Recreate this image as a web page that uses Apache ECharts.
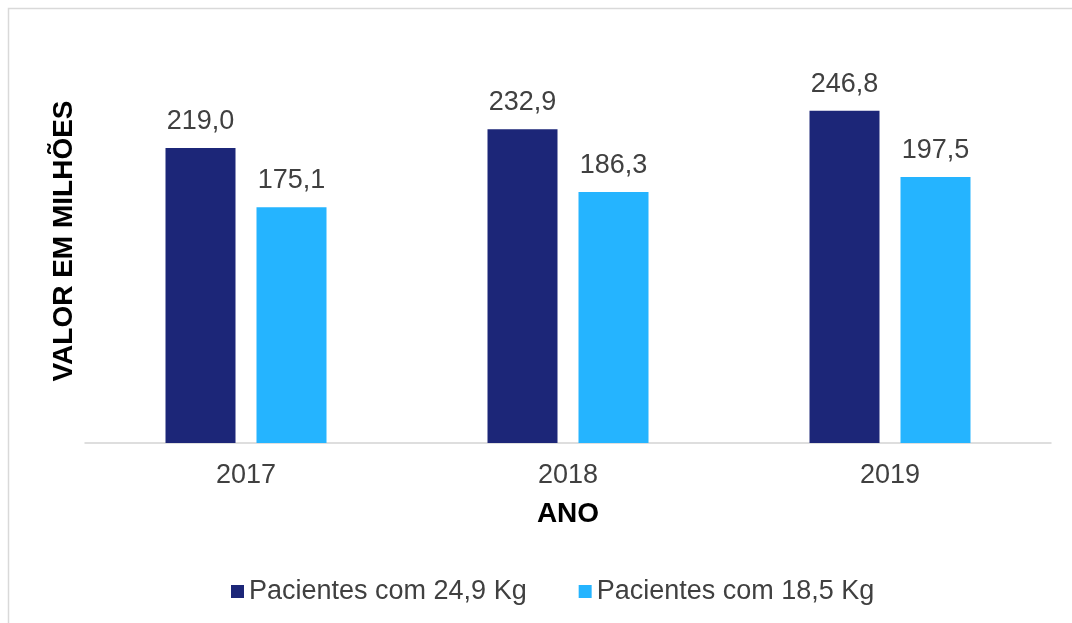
<!DOCTYPE html>
<html>
<head>
<meta charset="utf-8">
<script src="https://cdn.jsdelivr.net/npm/echarts@6/dist/echarts.min.js"></script>
<style>
html,body{margin:0;padding:0;background:#fff;}
#chart{width:1072px;height:623px;}
</style>
</head>
<body>
<div id="chart"></div>
<script>
const categories = ['2017', '2018', '2019'];
const series1Name = 'Pacientes com 24,9 Kg';
const series2Name = 'Pacientes com 18,5 Kg';
const series1Values = [219.0, 232.9, 246.8];
const series2Values = [175.1, 186.3, 197.5];
const xAxisTitle = 'ANO';
const yAxisTitle = 'VALOR EM MILHÕES';

const FONT = '"Liberation Sans", Arial, sans-serif';
const fmt = p => p.value.toFixed(1).replace('.', ',');

const chart = echarts.init(document.getElementById('chart'));
chart.setOption({
  animation: false,
  backgroundColor: '#ffffff',
  textStyle: { fontFamily: FONT },
  graphic: [{
    type: 'rect',
    shape: { x: 8.5, y: 8.5, width: 1100, height: 700 },
    style: { fill: 'none', stroke: '#d9d9d9', lineWidth: 1.5 },
    silent: true
  }],
  grid: { left: 85, right: 21, top: 39, bottom: 180 },
  legend: {
    left: 226, top: 573,
    itemWidth: 13, itemHeight: 13, itemGap: 52,
    icon: 'rect',
    textStyle: { fontSize: 27, color: '#404040', fontFamily: FONT },
    data: [series1Name, series2Name]
  },
  xAxis: {
    type: 'category',
    data: categories,
    axisLine: { lineStyle: { color: '#d4d4d4', width: 1.5 } },
    axisTick: { show: false },
    axisLabel: { fontSize: 27, color: '#404040', margin: 19, fontFamily: FONT },
    name: xAxisTitle,
    nameLocation: 'middle',
    nameGap: 57,
    nameTextStyle: { fontSize: 28, fontWeight: 'bold', color: '#000000', fontFamily: FONT }
  },
  yAxis: {
    type: 'value',
    min: 0, max: 300,
    axisLine: { show: false },
    axisTick: { show: false },
    axisLabel: { show: false },
    splitLine: { show: false },
    name: yAxisTitle,
    nameLocation: 'middle',
    nameGap: 7,
    nameTextStyle: { fontSize: 28, fontWeight: 'bold', color: '#000000', fontFamily: FONT }
  },
  series: [{
    name: series1Name,
    type: 'bar',
    data: series1Values,
    barWidth: 70,
    barGap: '30%',
    itemStyle: { color: '#1c2678' },
    label: { show: true, position: 'top', distance: 13, fontSize: 27, color: '#404040', fontFamily: FONT, formatter: fmt }
  }, {
    name: series2Name,
    type: 'bar',
    data: series2Values,
    barWidth: 70,
    barGap: '30%',
    itemStyle: { color: '#25b4ff' },
    label: { show: true, position: 'top', distance: 13, fontSize: 27, color: '#404040', fontFamily: FONT, formatter: fmt }
  }]
});
</script>
</body>
</html>
